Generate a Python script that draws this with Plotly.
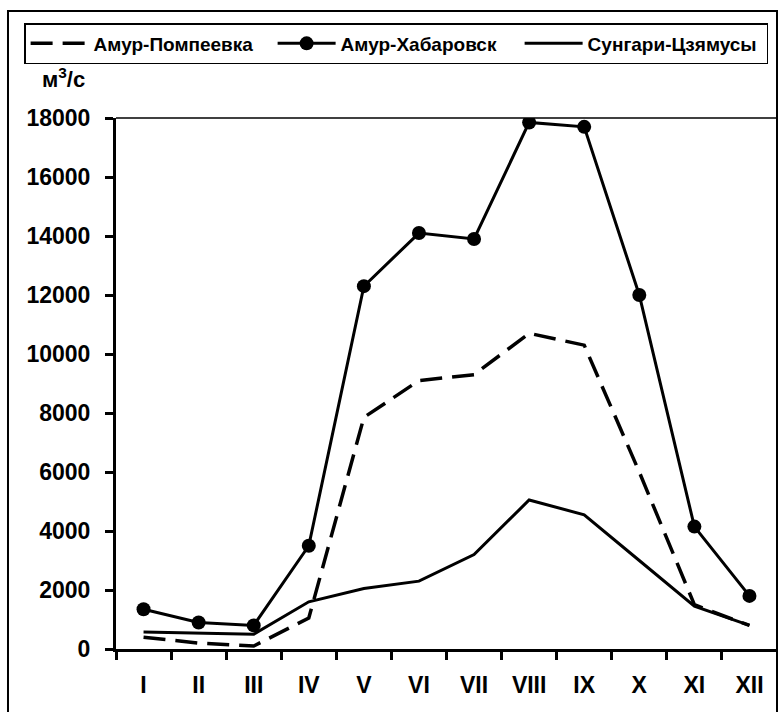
import plotly.graph_objects as go

# months (roman numerals) and discharge, m3/s
months = ["I", "II", "III", "IV", "V", "VI", "VII", "VIII", "IX", "X", "XI", "XII"]
pompeevka = [400, 200, 100, 1050, 7850, 9100, 9300, 10700, 10300, 6000, 1500, 800]
khabarovsk = [1350, 900, 800, 3500, 12300, 14100, 13900, 17850, 17700, 12000, 4150, 1800]
sungari = [580, 530, 500, 1600, 2050, 2300, 3200, 5050, 4550, 3000, 1450, 800]

FONT = "Liberation Sans, Arial, sans-serif"

fig = go.Figure()

fig.add_trace(go.Scatter(
    x=months, y=pompeevka, name="Амур-Помпеевка", mode="lines",
    line=dict(color="black", width=3.5, dash="22px,10px"),
))
fig.add_trace(go.Scatter(
    x=months, y=khabarovsk, name="Амур-Хабаровск", mode="lines+markers",
    line=dict(color="black", width=3),
    marker=dict(color="black", size=14),
))
fig.add_trace(go.Scatter(
    x=months, y=sungari, name="Сунгари-Цзямусы", mode="lines",
    line=dict(color="black", width=3),
))

# frame round the whole chart, and thin top/right edges of the plot area
fig.add_shape(type="rect", xref="paper", yref="paper",
              x0=-0.1634, x1=1.0, y0=-0.2, y1=1.2015,
              line=dict(color="black", width=2))
fig.add_shape(type="line", xref="paper", yref="paper",
              x0=0, x1=1, y0=1, y1=1, line=dict(color="black", width=1.5))
fig.add_shape(type="line", xref="paper", yref="paper",
              x0=1, x1=1, y0=0, y1=1, line=dict(color="black", width=1.5))

fig.add_annotation(
    text="м<sup>3</sup>/с", xref="paper", yref="paper",
    x=-0.115, y=1.075, xanchor="left", yanchor="middle", showarrow=False,
    font=dict(family=FONT, size=22, color="black", weight="bold"),
)

fig.update_layout(
    width=778, height=712,
    margin=dict(l=116, r=1, t=118, b=63),
    paper_bgcolor="white", plot_bgcolor="white",
    font=dict(family=FONT, color="black"),
    showlegend=True,
    legend=dict(
        orientation="h", x=-0.139, xanchor="left", y=1.1789, yanchor="top",
        bordercolor="black", borderwidth=1.5, bgcolor="white",
        font=dict(family=FONT, size=19, color="black", weight="bold"),
        itemwidth=58, entrywidth=174, traceorder="normal",
    ),
    xaxis=dict(
        type="category", range=[-0.5, 11.5], tickson="boundaries", ticks="outside",
        ticklen=8, tickwidth=2.5, tickcolor="black",
        showline=True, linewidth=3, linecolor="black",
        showgrid=False, zeroline=False,
        tickfont=dict(family=FONT, size=23, color="black", weight="bold"),
        ticklabelstandoff=13,
    ),
    yaxis=dict(
        range=[0, 18000], dtick=2000, tickformat="d", ticks="outside",
        ticklen=8, tickwidth=2.5, tickcolor="black",
        showline=True, linewidth=3, linecolor="black",
        showgrid=False, zeroline=False,
        tickfont=dict(family=FONT, size=23, color="black", weight="bold"),
        ticklabelstandoff=10,
    ),
)

# page body has a default 8px margin; drop it so the chart sits at 0,0
fig.write_html("out.html", config={"displayModeBar": False},
               post_script="document.body.style.margin='0px';")
